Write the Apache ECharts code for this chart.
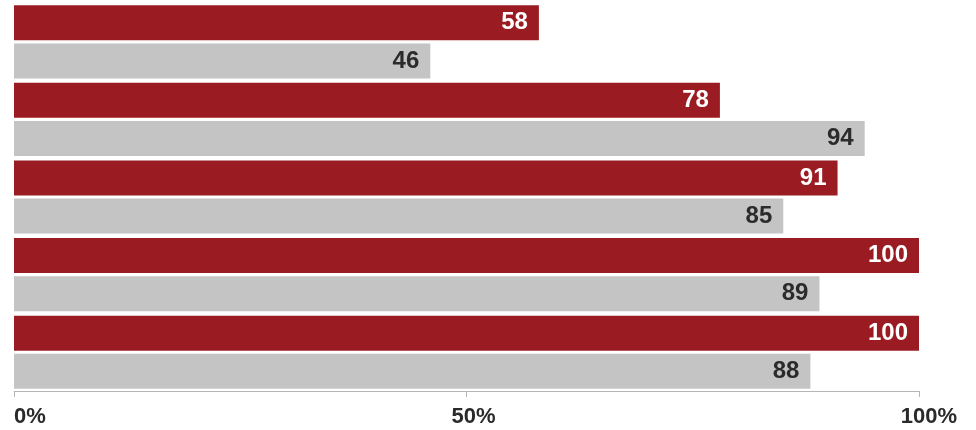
<!DOCTYPE html>
<html>
<head>
<meta charset="utf-8">
<script src="https://cdn.jsdelivr.net/npm/echarts@6/dist/echarts.min.js"></script>
<style>
html,body{margin:0;padding:0;background:#fff;}
#chart{width:976px;height:430px;}
</style>
</head>
<body>
<div id="chart"></div>
<script>
var categories = ['A', 'B', 'C', 'D', 'E'];
var redValues = [58, 78, 91, 100, 100];
var grayValues = [46, 94, 85, 89, 88];
var tickLabels = ['0%', '50%', '100%'];

var FONT = 'Liberation Sans';
var chart = echarts.init(document.getElementById('chart'));
chart.setOption({
  animation: false,
  backgroundColor: '#ffffff',
  grid: { left: 14, right: 57, top: 3, bottom: 39, containLabel: false },
  xAxis: {
    type: 'value', min: 0, max: 100, interval: 50,
    splitLine: { show: false },
    axisLine: { show: true, lineStyle: { color: '#b5b5b5', width: 1 } },
    axisTick: { show: true, length: 6, lineStyle: { color: '#b5b5b5' } },
    axisLabel: {
      margin: 15,
      alignMinLabel: 'left',
      color: '#2a2a2a', fontFamily: FONT, fontWeight: 'bold', fontSize: 22,
      formatter: function (v) {
        var i = Math.round(v / 50);
        var key = ['a', 'b', 'c'][i];
        return '{' + key + '|' + tickLabels[i] + '}';
      },
      rich: {
        a: { fontFamily: FONT, fontWeight: 'bold', fontSize: 22, color: '#2a2a2a' },
        b: { fontFamily: FONT, fontWeight: 'bold', fontSize: 22, color: '#2a2a2a', padding: [0, 0, 0, 14] },
        c: { fontFamily: FONT, fontWeight: 'bold', fontSize: 22, color: '#2a2a2a', padding: [0, 0, 0, 20] }
      }
    }
  },
  yAxis: {
    type: 'category', data: categories, inverse: true,
    axisLine: { show: false }, axisTick: { show: false }, axisLabel: { show: false },
    splitLine: { show: false }
  },
  series: [
    {
      type: 'bar', data: redValues, barWidth: 35, barGap: '9%',
      itemStyle: { color: '#9a1c22' },
      label: {
        show: true, position: 'insideRight', distance: 11,
        color: '#ffffff', fontFamily: FONT, fontWeight: 'bold', fontSize: 24
      }
    },
    {
      type: 'bar', data: grayValues, barWidth: 35,
      itemStyle: { color: '#c4c4c4' },
      label: {
        show: true, position: 'insideRight', distance: 11,
        color: '#2b2b2b', fontFamily: FONT, fontWeight: 'bold', fontSize: 24
      }
    }
  ]
});
</script>
</body>
</html>
